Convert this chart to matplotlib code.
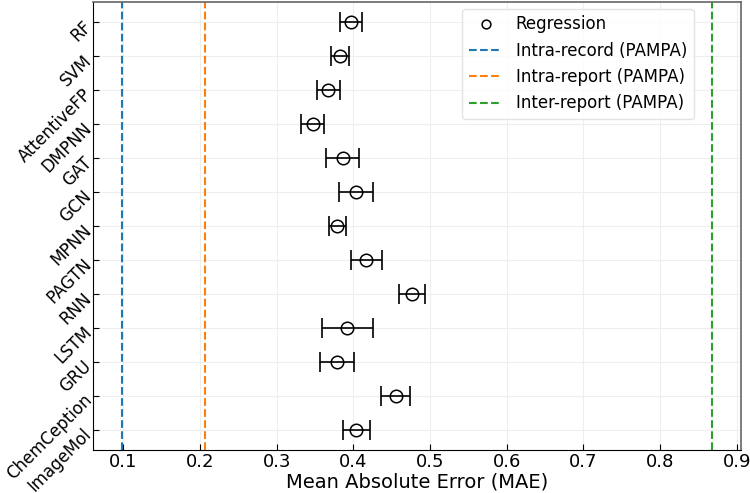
import matplotlib
matplotlib.use('Agg')
import matplotlib.pyplot as plt
import numpy as np

# data
models = ['RF', 'SVM', 'AttentiveFP', 'DMPNN', 'GAT', 'GCN', 'MPNN',
          'PAGTN', 'RNN', 'LSTM', 'GRU', 'ChemCeption', 'ImageMol']
mae = [0.397, 0.383, 0.367, 0.347, 0.386, 0.403, 0.379,
       0.417, 0.476, 0.392, 0.379, 0.455, 0.404]
mae_err = [0.014, 0.012, 0.015, 0.015, 0.022, 0.022, 0.011,
           0.020, 0.017, 0.033, 0.022, 0.019, 0.018]

ref_names = ['Intra-record (PAMPA)', 'Intra-report (PAMPA)', 'Inter-report (PAMPA)']
ref_values = [0.099, 0.207, 0.867]
ref_colors = ['#1f77b4', '#ff7f0e', '#2ca02c']

fig = plt.figure(figsize=(7.5, 4.93), dpi=100)
ax = fig.add_axes([0.124, 0.087, 0.864, 0.909])

y = np.arange(len(models))
ax.errorbar(mae, y, xerr=mae_err, fmt='none', ecolor='black',
            elinewidth=1.2, capsize=7, capthick=1.2, zorder=3)
ax.plot(mae, y, 'o', markersize=9, markerfacecolor='none',
        markeredgecolor='black', markeredgewidth=1.1, linestyle='none',
        label='Regression', zorder=4)

for name, val, col in zip(ref_names, ref_values, ref_colors):
    ax.axvline(val, color=col, linestyle='--', linewidth=1.5, label=name)

ax.set_yticks(y)
ax.set_yticklabels(models, fontsize=12)
plt.setp(ax.get_yticklabels(), rotation=45, ha='right', rotation_mode='anchor')
ax.invert_yaxis()

ax.set_xticks(np.arange(0.1, 0.95, 0.1))
ax.tick_params(axis='x', labelsize=13, pad=2)
ax.tick_params(axis='y', pad=4)
ax.tick_params(direction='in', length=4)
ax.set_xlabel('Mean Absolute Error (MAE)', fontsize=14, labelpad=1)

ax.grid(True, color='#eeeeee', linewidth=0.8)
ax.set_axisbelow(True)
for s in ['top', 'right']:
    ax.spines[s].set_color('#666666')
    ax.spines[s].set_linewidth(1.2)

ax.legend(loc='upper right', bbox_to_anchor=(0.927, 0.985), borderaxespad=0,
          fontsize=12, edgecolor='#dddddd', markerscale=0.7)

plt.savefig('out.png', dpi=100)
